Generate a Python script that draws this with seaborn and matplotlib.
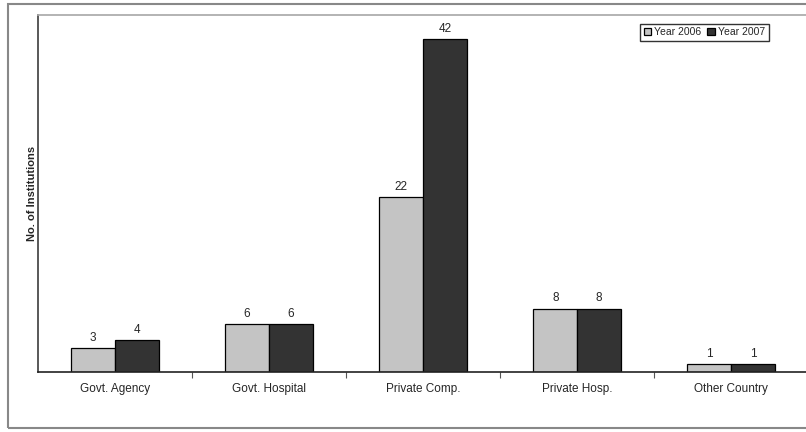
import pandas as pd
import matplotlib.pyplot as plt
import seaborn as sns
from matplotlib.patches import Rectangle

categories = ['Govt. Agency', 'Govt. Hospital', 'Private Comp.', 'Private Hosp.', 'Other Country']
year_2006 = [3, 6, 22, 8, 1]
year_2007 = [4, 6, 42, 8, 1]
series = ['Year 2006', 'Year 2007']

df = pd.DataFrame({
    'category': categories * 2,
    'year': [series[0]] * len(categories) + [series[1]] * len(categories),
    'count': year_2006 + year_2007,
})

sns.set_theme(style="white")
plt.rcParams['font.family'] = ['Liberation Sans', 'DejaVu Sans']

fig = plt.figure(figsize=(8.06, 4.32), dpi=100)
ax = fig.add_axes([38 / 806, 60 / 432, 1.003 - 38 / 806, (372 - 15) / 432])

sns.barplot(data=df, x='category', y='count', hue='year', ax=ax,
            palette=['#c4c4c4', '#333333'], width=0.57, gap=0,
            edgecolor='black', linewidth=0.9, saturation=1)

ax.set_ylim(0, 45)
ax.set_xlim(-0.5, 4.5)
ax.set_yticks([])
ax.set_xlabel('')
ax.set_ylabel('No. of Institutions', fontsize=8, fontweight='bold', labelpad=1)
ax.tick_params(axis='x', length=0, labelsize=8.5, pad=8)

# small ticks between categories
ax.set_xticks([0.5, 1.5, 2.5, 3.5], minor=True)
ax.tick_params(axis='x', which='minor', bottom=True, length=4, width=0.8,
               direction='out', color='#555555')

for c in ax.containers:
    ax.bar_label(c, fontsize=8.5, padding=3)

ax.spines['left'].set_color('#444444')
ax.spines['bottom'].set_color('#222222')
ax.spines['bottom'].set_linewidth(1.2)
ax.spines['top'].set_color('#aaaaaa')
ax.spines['right'].set_visible(False)

leg = ax.legend(loc='upper right', bbox_to_anchor=(0.955, 0.99), ncol=2, fontsize=7.5,
                frameon=True, fancybox=False, edgecolor='black', handlelength=0.7,
                handleheight=0.7, handletextpad=0.3, columnspacing=0.6,
                borderpad=0.35)
leg.get_frame().set_linewidth(1.0)

# outer frame of the figure
fig.patches.append(Rectangle((8 / 806, 4 / 432), 1.0, 424 / 432, transform=fig.transFigure,
                             fill=False, edgecolor='#888888', linewidth=1.5))

fig.savefig('out.png', dpi=100)
